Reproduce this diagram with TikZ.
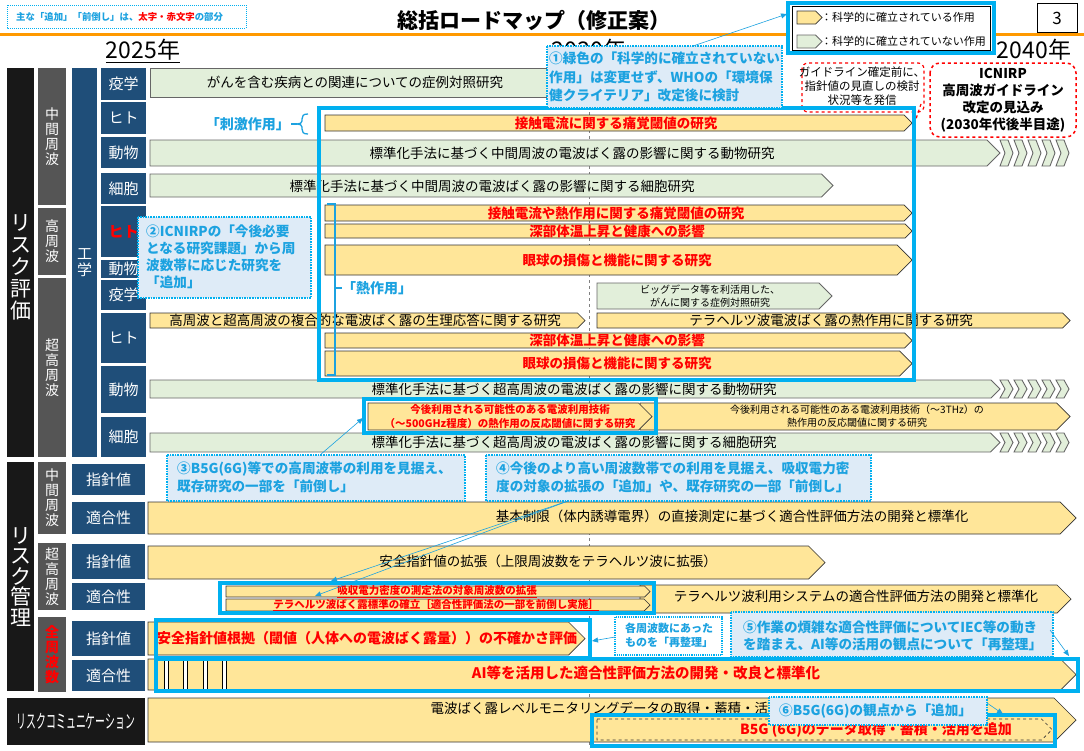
\documentclass[tikz,border=0pt]{standalone}
\usepackage{fontspec}
\usepackage{graphicx}
\setmainfont{Noto Sans CJK JP}
\usetikzlibrary{arrows.meta}
\definecolor{cyanhl}{RGB}{0,176,240}
\definecolor{cotext}{RGB}{28,162,224}
\definecolor{cofill}{RGB}{222,235,247}
\definecolor{cellblue}{RGB}{31,78,121}
\definecolor{grayc}{RGB}{85,85,85}
\definecolor{blackc}{RGB}{24,24,24}
\definecolor{ylw}{RGB}{255,230,153}
\definecolor{grn}{RGB}{226,239,218}
\definecolor{orng}{RGB}{255,153,0}
\newcommand\jfs[1]{\fontsize{#1}{#1}\selectfont}
\newcommand\pent[5]{\filldraw[#5] (#1,#2) -- ({#3-(#4-#2)/2},#2) -- (#3,{(#2+#4)/2}) -- ({#3-(#4-#2)/2},#4) -- (#1,#4) -- cycle;}
\newcommand\chevs[3]{\foreach \cx in {0,14,28,42,56}{\filldraw[garr] ({#1+\cx},#2) -- ({#1+\cx+8},#2) -- ({#1+\cx+13},{(#2+#3)/2}) -- ({#1+\cx+8},#3) -- ({#1+\cx},#3) -- ({#1+\cx+5},{(#2+#3)/2}) -- cycle;}}
\newcommand\cellbox[8]{\fill[#6] (#2,#3) rectangle (#4,#5); \node[#7] (#1) at ({(#2+#4)/2},{(#3+#5)/2}) {#8};}
\tikzset{
 yarr/.style={fill=ylw, draw=black!80, line width=0.7},
 garr/.style={fill=grn, draw=black!60, line width=0.9},
 celltext/.style={text=white, font=\jfs{15}, align=center, inner sep=0},
 vtext/.style={text=white, font=\fontsize{14}{15}\selectfont, align=center, inner sep=0},
 bigv/.style={text=white, font=\fontsize{21}{22}\selectfont, align=center, inner sep=0},
 btxt/.style={font=\jfs{13.5}, inner sep=0},
 rtxt/.style={font=\bfseries\jfs{13.5}, text=red, inner sep=0},
 stxt/.style={font=\fontsize{10}{13}\selectfont, align=center, inner sep=0},
 srtxt/.style={font=\bfseries\fontsize{10.5}{14}\selectfont, text=red, align=center, inner sep=0},
 hlbox/.style={draw=cyanhl, line width=4},
 cobox/.style={draw=cyanhl, densely dotted, line width=1.6, fill=cofill},
 cotxt/.style={font=\bfseries\fontsize{13.6}{18.5}\selectfont, text=cotext, align=left, inner sep=0, anchor=north west},
 conn/.style={draw=cotext, line width=0.6, -{Triangle[length=6pt,width=5pt]}},
}
\begin{document}
\begin{tikzpicture}[x=1pt,y=-1pt]
\useasboundingbox (0,0) rectangle (1084,750);
\fill[white] (0,0) rectangle (1084,750);
% header
\draw[cyanhl, densely dotted, line width=1] (7,5) rectangle (246,28);
\node[anchor=west, font=\bfseries\jfs{9.4}, text=cotext, inner sep=0] (note) at (16,16.5) {主な「追加」「前倒し」は、\textcolor{red}{太字・赤文字}の部分};
\node[font=\bfseries\jfs{21}, inner sep=0] (title) at (534,20) {総括ロードマップ（修正案）};
\fill[orng] (0,32.5) rectangle (1084,35.5);
\node[draw, line width=0.8, minimum width=40, minimum height=29, font=\jfs{17}, fill=white] (page) at (1057,18) {3};
\node[font=\jfs{23}, inner sep=0] (y2025) at (143,50) {2025年};
\draw[line width=0.8] ([yshift=-2pt]y2025.south west) -- ([yshift=-2pt]y2025.south east);
\node[font=\jfs{23}, inner sep=0] (y2030) at (589,50) {2030年};
\draw[line width=0.8] ([yshift=-2pt]y2030.south west) -- ([yshift=-2pt]y2030.south east);
\node[font=\jfs{23}, inner sep=0] (y2040) at (1034,50) {2040年};
% legend
\fill[white] (788,3) rectangle (994,53);
\draw[black, line width=1] (792,6) rectangle (990,50);
\pent{797}{11}{822}{24}{yarr}
\node[anchor=west, font=\jfs{11}, inner sep=0] (lg1) at (821,17.5) {：科学的に確立されている作用};
\pent{797}{35}{822}{48}{garr}
\node[anchor=west, font=\jfs{11}, inner sep=0] (lg2) at (821,41.5) {：科学的に確立されていない作用};
\draw[hlbox, line width=3.5] (788,3) rectangle (994,53);
% dashed timeline
\draw[gray, dashed, line width=0.6] (589,64) -- (589,748);
% red callouts
\filldraw[red, dashed, line width=1.2, rounded corners=6, fill=white] (802,63) rectangle (924,112);
\draw[red, dashed, line width=1.2] (921,104) -- (916,119);
\node[font=\fontsize{11.5}{14}\selectfont, align=center, inner sep=0] (gl) at (862,86) {ガイドライン確定前に、\\指針値の見直しの検討\\状況等を発信};
\draw[red, dashed, line width=1.5, rounded corners=10] (930,63) rectangle (1076,137);
\node[font=\bfseries\fontsize{13.5}{17}\selectfont, align=center, inner sep=0] (icnirp) at (1003,100) {ICNIRP\\高周波ガイドライン\\改定の見込み\\(2030年代後半目途)};
% left columns (risk evaluation)
\fill[blackc] (7,68) rectangle (34,457);
\node[bigv] (rh) at (20.5,267) {リ\\ス\\ク\\評\\価};
\cellbox{g1}{38}{68}{66}{205}{grayc}{vtext}{中\\間\\周\\波}
\cellbox{g2}{38}{208}{66}{275}{grayc}{vtext}{高\\周\\波}
\cellbox{g3}{38}{278}{66}{457}{grayc}{vtext}{超\\高\\周\\波}
\cellbox{kg}{72}{68}{97}{457}{cellblue}{celltext, font=\fontsize{15}{16}\selectfont}{工\\学}
\cellbox{ep1}{101}{68}{146}{100}{cellblue}{celltext}{疫学}
\cellbox{hi1}{101}{102}{146}{134}{cellblue}{celltext}{ヒト}
\cellbox{an1}{101}{137}{146}{168}{cellblue}{celltext}{動物}
\cellbox{ce1}{101}{173}{146}{204}{cellblue}{celltext}{細胞}
\cellbox{hi2}{101}{206}{146}{257}{cellblue}{celltext, text=red, font=\bfseries\jfs{15}}{ヒト}
\cellbox{an2}{101}{260}{146}{278}{cellblue}{celltext}{動物}
\cellbox{ep2}{101}{280}{146}{310}{cellblue}{celltext}{疫学}
\cellbox{hi3}{101}{313}{146}{363}{cellblue}{celltext}{ヒト}
\cellbox{an3}{101}{366}{146}{413}{cellblue}{celltext}{動物}
\cellbox{ce3}{101}{417}{146}{457}{cellblue}{celltext}{細胞}
% risk evaluation bars
\filldraw[garr] (150,68) rectangle (552,97);
\node[btxt] (t1) at (355,82) {がんを含む疾病との関連についての症例対照研究};
\pent{325}{115}{912}{131}{yarr}
\node[rtxt] (t2) at (616,123) {接触電流に関する痛覚閾値の研究};
\pent{150}{140}{1000}{166}{garr}
\chevs{1000}{140}{166}
\node[btxt] (t3) at (572,153) {標準化手法に基づく中間周波の電波ばく露の影響に関する動物研究};
\pent{150}{174}{833}{197}{garr}
\node[btxt] (t4) at (492,186) {標準化手法に基づく中間周波の電波ばく露の影響に関する細胞研究};
\pent{325}{205}{912}{221}{yarr}
\node[rtxt] (t5) at (616,213) {接触電流や熱作用に関する痛覚閾値の研究};
\pent{325}{224}{912}{238}{yarr}
\node[rtxt] (t6) at (617,231) {深部体温上昇と健康への影響};
\pent{325}{245}{912}{275}{yarr}
\node[rtxt] (t7) at (617,260) {眼球の損傷と機能に関する研究};
\pent{597}{283}{832}{309}{garr}
\node[stxt] (t8) at (710,296) {ビッグデータ等を利活用した、\\がんに関する症例対照研究};
\pent{150}{313}{585}{328}{yarr}
\node[btxt] (t9) at (365,320.5) {高周波と超高周波の複合的な電波ばく露の生理応答に関する研究};
\pent{597}{313}{1070}{328}{yarr}
\node[btxt] (t10) at (831,320.5) {テラヘルツ波電波ばく露の熱作用に関する研究};
\pent{325}{333}{912}{348}{yarr}
\node[rtxt] (t11) at (617,340.5) {深部体温上昇と健康への影響};
\pent{325}{351}{912}{376}{yarr}
\node[rtxt] (t12) at (617,363.5) {眼球の損傷と機能に関する研究};
\pent{150}{380}{1000}{398}{garr}
\chevs{1000}{380}{398}
\node[btxt] (t13) at (574,389) {標準化手法に基づく超高周波の電波ばく露の影響に関する動物研究};
\pent{640}{403}{1070}{430}{yarr}
\node[stxt] (t14) at (857,416.5) {今後利用される可能性のある電波利用技術（～3THz）の\\熱作用の反応閾値に関する研究};
\pent{368}{403}{652}{430}{yarr}
\node[srtxt] (t15) at (510,416.5) {今後利用される可能性のある電波利用技術\\（～500GHz程度）の熱作用の反応閾値に関する研究};
\pent{150}{433}{1000}{452}{garr}
\chevs{1000}{433}{452}
\node[btxt] (t16) at (574,442.5) {標準化手法に基づく超高周波の電波ばく露の影響に関する細胞研究};
% highlights and brackets (risk evaluation)
\draw[hlbox] (319,108) rectangle (914,380);
\draw[hlbox] (364,399) rectangle (656,433);
\draw[cotext, line width=1.3] (308,114) .. controls (303,114) and (302,116) .. (302,119) -- (302,121) .. controls (302,123) and (300,124) .. (297,124) .. controls (300,124) and (302,125) .. (302,127) -- (302,129) .. controls (302,132) and (303,134) .. (308,134);
\draw[cotext, line width=1.3] (291,124) -- (297,124);
\node[font=\bfseries\jfs{14}, text=cotext, anchor=east, inner sep=0] (shigeki) at (290,124) {「刺激作用」};
\draw[cotext, line width=1.2] (327,204) -- (335,204) -- (335,375) -- (327,375);
\draw[cotext, line width=1.2] (335,288) -- (342,288);
\node[font=\bfseries\jfs{14}, text=cotext, anchor=west, inner sep=0] (netsu) at (342,288) {「熱作用」};
% callouts 1 and 2
\filldraw[cobox] (547,46) rectangle (782,108);
\node[cotxt] (c1) at (549,52) {①緑色の「科学的に確立されていない\\作用」は変更せず、WHOの「環境保\\健クライテリア」改定後に検討};
\filldraw[cobox] (138,217) rectangle (311,298);
\node[cotxt, font=\bfseries\fontsize{13.6}{17}\selectfont] (c2) at (146,225) {②ICNIRPの「今後必要\\となる研究課題」から周\\波数帯に応じた研究を\\「追加」};
% risk management columns
\fill[blackc] (7,462) rectangle (34,691);
\node[bigv, font=\fontsize{21}{20.5}\selectfont] (rk) at (20.5,577) {リ\\ス\\ク\\管\\理};
\cellbox{g4}{38}{462}{66}{534}{grayc}{vtext}{中\\間\\周\\波}
\cellbox{g5}{38}{543}{66}{610}{grayc}{vtext}{超\\高\\周\\波}
\cellbox{g6}{38}{617}{66}{692}{grayc}{vtext, text=red, font=\bfseries\fontsize{14}{15}\selectfont}{全\\周\\波\\数}
\cellbox{m1}{72}{464}{145}{495}{cellblue}{celltext}{指針値}
\cellbox{m2}{72}{502}{145}{534}{cellblue}{celltext}{適合性}
\cellbox{m3}{72}{544}{145}{579}{cellblue}{celltext}{指針値}
\cellbox{m4}{72}{583}{145}{610}{cellblue}{celltext}{適合性}
\cellbox{m5}{72}{621}{145}{656}{cellblue}{celltext}{指針値}
\cellbox{m6}{72}{660}{145}{691}{cellblue}{celltext}{適合性}
\cellbox{rc}{7}{698}{145}{745}{blackc}{celltext, font=\jfs{19}}{\scalebox{0.52}[1]{リスクコミュニケーション}}
% risk management bars
\pent{148}{502}{1076}{534}{yarr}
\node[btxt] (u1) at (732,516) {基本制限（体内誘導電界）の直接測定に基づく適合性評価方法の開発と標準化};
\pent{148}{546}{825}{579}{yarr}
\node[btxt] (u2) at (548,561) {安全指針値の拡張（上限周波数をテラヘルツ波に拡張）};
\pent{640}{585}{1071}{613}{yarr}
\node[btxt] (u3) at (856,596) {テラヘルツ波利用システムの適合性評価方法の開発と標準化};
\pent{226}{586}{650}{597}{yarr}
\node[srtxt] (u4) at (437,591.5) {\underline{吸収電力密度の測定法の対象周波数の拡張}};
\pent{226}{599}{650}{611}{yarr}
\node[srtxt] (u5) at (436,605) {\underline{テラヘルツ波ばく露標準の確立［適合性評価法の一部を前倒し実施］}};
\draw[hlbox] (220,583) rectangle (654,613);
\pent{148}{622}{585}{655}{yarr}
\node[rtxt, font=\bfseries\jfs{14}] (u6) at (367,638) {安全指針値根拠（閾値（人体への電波ばく露量））の不確かさ評価};
\pent{148}{659}{1076}{690}{yarr}
\foreach \sx in {164,183,203,222}{\filldraw[fill=white, draw=black, line width=0.7] (\sx,659) rectangle ({\sx+4.5},690);}
\node[rtxt, font=\bfseries\jfs{14.5}] (u7) at (646,673) {AI等を活用した適合性評価方法の開発・改良と標準化};
\draw[hlbox] (156,620) rectangle (590,658);
\draw[hlbox] (156,659) rectangle (1078,691);
\pent{148}{698}{1076}{742}{yarr}
\node[btxt] (u8) at (606,708) {電波ばく露レベルモニタリングデータの取得・蓄積・活用};
\pent{597}{719}{1052}{740}{yarr, dashed}
\node[rtxt, font=\bfseries\jfs{14}] (u9) at (876,730) {B5G (6G)のデータ取得・蓄積・活用を追加};
\draw[hlbox] (592,715) rectangle (1055,746);
% callouts 3-6
\filldraw[cobox] (167,455) rectangle (465,501);
\node[cotxt, font=\bfseries\fontsize{13.6}{17.5}\selectfont] (c3) at (177,462) {③B5G(6G)等での高周波帯の利用を見据え、\\既存研究の一部を「前倒し」};
\filldraw[cobox] (486,455) rectangle (871,501);
\node[cotxt, font=\bfseries\fontsize{13.6}{17.5}\selectfont] (c4) at (496,462) {④今後のより高い周波数帯での利用を見据え、吸収電力密\\度の対象の拡張の「追加」や、既存研究の一部「前倒し」};
\filldraw[draw=cyanhl, densely dotted, line width=1.2, fill=white] (615,617) rectangle (722,655);
\node[cotxt, font=\bfseries\fontsize{11}{14}\selectfont] (c7) at (625,623) {各周波数にあった\\ものを「再整理」};
\filldraw[cobox] (731,612) rectangle (1053,657);
\node[cotxt, font=\bfseries\fontsize{13.6}{16.5}\selectfont] (c5) at (743,621) {⑤作業の煩雑な適合性評価についてIEC等の動き\\を踏まえ、AI等の活用の観点について「再整理」};
\filldraw[cobox] (769,697) rectangle (987,725);
\node[cotxt, anchor=west] (c6) at (779,711) {⑥B5G(6G)の観点から「追加」};
% connectors
\coordinate (a1s) at (693,46); \coordinate (a1e) at (787,14);
\coordinate (a3s) at (320,455); \coordinate (a3e) at (363,418);
\coordinate (a4s) at (568,501); \coordinate (a4e) at (331,581); \coordinate (a4f) at (315,596);
\coordinate (a7s) at (615,637); \coordinate (a7e) at (592,641);
\coordinate (a5s) at (1050,630); \coordinate (a5e) at (1069,656);
\coordinate (a6s) at (987,703); \coordinate (a6e) at (1003,714);
\draw[conn] (a1s) -- (a1e);
\draw[conn] (a3s) -- (a3e);
\draw[conn] (a4s) -- (a4e);
\draw[conn] (a4s) -- (a4f);
\draw[conn] (a7s) -- (a7e);
\draw[conn] (a5s) -- (a5e);
\draw[conn] (a6s) -- (a6e);
\end{tikzpicture}
\end{document}
